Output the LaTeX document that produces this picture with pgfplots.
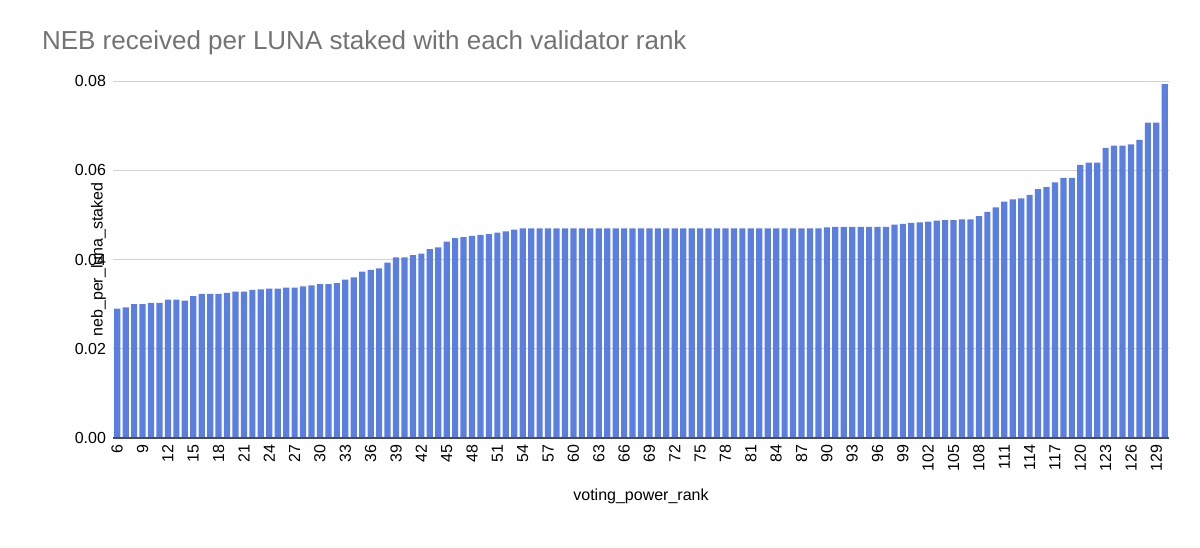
\documentclass[border=0pt]{standalone}
\usepackage{pgfplots}
\pgfplotsset{compat=1.18}
\usepackage{fontspec}
\setmainfont{Liberation Sans}
\definecolor{bar}{HTML}{5B7FE0}
\begin{document}
\begin{tikzpicture}
\begin{axis}[
  scale only axis, width=528pt, height=178.5pt,
  xmin=5.5, xmax=130.5, ymin=0, ymax=0.08,
  ybar, bar width=3.1pt, bar shift=0pt,
  axis line style={draw=none},
  axis x line*=bottom,
  ymajorgrids, grid style={gray!35, line width=0.5pt},
  xtick={6,9,...,129},
  ytick={0,0.02,0.04,0.06,0.08},
  major tick length=0pt,
  /pgf/number format/assume math mode=true,
  yticklabel style={/pgf/number format/.cd, fixed, fixed zerofill, precision=2},
  scaled y ticks=false,
  tick label style={font=\fontsize{8}{9}\selectfont},
  x tick label style={rotate=90, anchor=east},
  xlabel={voting\_power\_rank}, ylabel={neb\_per\_luna\_staked},
  label style={font=\fontsize{8}{9}\selectfont},
  xlabel style={at={(axis description cs:0.5,0)}, yshift=-22pt},
  ylabel style={at={(axis description cs:0,0.5)}, xshift=-0pt},
  clip=false,
]
\addplot[fill=bar, draw=none] coordinates {
(6,0.0290)(7,0.0293)(8,0.0300)(9,0.0300)(10,0.0303)(11,0.0303)(12,0.0310)(13,0.0310)(14,0.0308)(15,0.0318)
(16,0.0323)(17,0.0323)(18,0.0323)(19,0.0325)(20,0.0328)(21,0.0328)(22,0.0332)(23,0.0333)(24,0.0335)(25,0.0335)
(26,0.0337)(27,0.0337)(28,0.0340)(29,0.0342)(30,0.0345)(31,0.0345)(32,0.0347)(33,0.0355)(34,0.0360)(35,0.0373)
(36,0.0377)(37,0.0380)(38,0.0393)(39,0.0405)(40,0.0405)(41,0.0410)(42,0.0413)(43,0.0423)(44,0.0427)(45,0.0440)
(46,0.0448)(47,0.0450)(48,0.0453)(49,0.0455)(50,0.0457)(51,0.0460)(52,0.0463)(53,0.0467)(54,0.0470)(55,0.0470)
(56,0.0470)(57,0.0470)(58,0.0470)(59,0.0470)(60,0.0470)(61,0.0470)(62,0.0470)(63,0.0470)(64,0.0470)(65,0.0470)
(66,0.0470)(67,0.0470)(68,0.0470)(69,0.0470)(70,0.0470)(71,0.0470)(72,0.0470)(73,0.0470)(74,0.0470)(75,0.0470)
(76,0.0470)(77,0.0470)(78,0.0470)(79,0.0470)(80,0.0470)(81,0.0470)(82,0.0470)(83,0.0470)(84,0.0470)(85,0.0470)
(86,0.0470)(87,0.0470)(88,0.0470)(89,0.0470)(90,0.0472)(91,0.0473)(92,0.0473)(93,0.0473)(94,0.0473)(95,0.0473)
(96,0.0473)(97,0.0473)(98,0.0478)(99,0.0480)(100,0.0482)(101,0.0483)(102,0.0485)(103,0.0487)(104,0.0488)(105,0.0488)
(106,0.0490)(107,0.0490)(108,0.0497)(109,0.0507)(110,0.0517)(111,0.0530)(112,0.0535)(113,0.0537)(114,0.0545)(115,0.0558)
(116,0.0562)(117,0.0573)(118,0.0583)(119,0.0583)(120,0.0612)(121,0.0617)(122,0.0617)(123,0.0650)(124,0.0655)(125,0.0655)
(126,0.0658)(127,0.0668)(128,0.0707)(129,0.0707)(130,0.0793)
};
\draw[black!70, line width=0.6pt] (axis cs:5.5,0) -- (axis cs:130.5,0);
\end{axis}
\node[anchor=base west, text=black!55, font=\fontsize{13}{15}\selectfont] at (-39pt,194pt) {NEB received per LUNA staked with each validator rank};
\useasboundingbox (-56.5pt,-54.5pt) rectangle (543.5pt,219pt);
\end{tikzpicture}
\end{document}
